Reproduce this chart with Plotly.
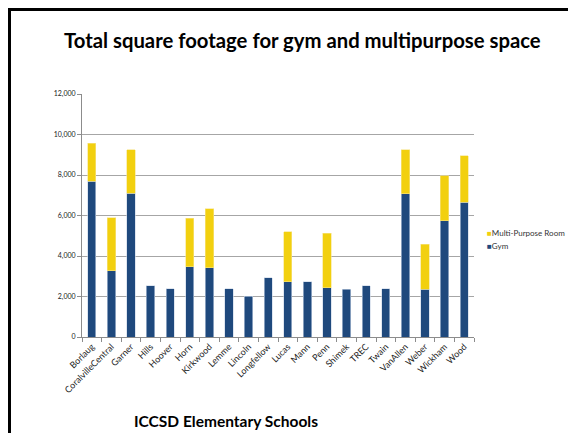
import plotly.graph_objects as go

schools = [
    "Borlaug", "CoralvilleCentral", "Garner", "Hills", "Hoover", "Horn",
    "Kirkwood", "Lemme", "Lincoln", "Longfellow", "Lucas", "Mann", "Penn",
    "Shimek", "TREC", "Twain", "VanAllen", "Weber", "Wickham", "Wood",
]
gym = [
    7680, 3270, 7090, 2520, 2390, 3470, 3420, 2390, 2010, 2930,
    2730, 2730, 2440, 2350, 2520, 2390, 7080, 2370, 5740, 6650,
]
# None = school has no multi-purpose room
multi_purpose = [
    1900, 2630, 2160, None, None, 2390, 2920, None, None, None,
    2470, None, 2680, None, None, None, 2170, 2220, 2230, 2300,
]

GYM_BLUE = "#1F497D"
MPR_YELLOW = "#F2D00F"
FONT = "Lato"

# the page body has an 8px margin, so the figure is 8px smaller
# and page pixel positions are shifted by that amount
OFF = 8
W, H = 576 - OFF, 433 - OFF
L, T = 82 - OFF, 94 - OFF
R = W - (474 - OFF)
B = H - (337 - OFF)
PW, PH = W - L - R, H - T - B


def px(x):
    return (x - OFF - L) / PW


def py(y):
    return (H - B - (y - OFF)) / PH


fig = go.Figure()
fig.add_trace(go.Bar(
    x=schools, y=gym, name="Gym", showlegend=False,
    marker={"color": GYM_BLUE, "line": {"color": "#C9D6E6", "width": 0.6}},
))
fig.add_trace(go.Bar(
    x=schools, y=multi_purpose, name="Multi-Purpose Room", showlegend=False,
    marker={"color": MPR_YELLOW, "line": {"color": "#F7E58A", "width": 0.6}},
))

legend_items = [("Multi-Purpose Room", MPR_YELLOW, 233), ("Gym", GYM_BLUE, 246)]

annotations = [
    {
        "text": "<b>Total square footage for gym and multipurpose space</b>",
        "x": px(302), "y": py(40), "xref": "paper", "yref": "paper",
        "xanchor": "center", "yanchor": "middle", "showarrow": False,
        "font": {"size": 20.3, "family": FONT, "color": "black"},
    },
    {
        "text": "<b>ICCSD Elementary Schools</b>",
        "x": px(132), "y": py(421), "xref": "paper", "yref": "paper",
        "xanchor": "left", "yanchor": "middle", "showarrow": False,
        "font": {"size": 15.5, "family": FONT, "color": "black"},
    },
]
for label, color, ypos in legend_items:
    annotations.append({
        "text": f'<span style="color:{color}">■</span>{label}',
        "x": px(485), "y": py(ypos), "xref": "paper", "yref": "paper",
        "xanchor": "left", "yanchor": "middle", "showarrow": False,
        "font": {"size": 8, "family": FONT, "color": "#333333"},
    })

fig.update_layout(
    width=W, height=H,
    margin={"l": L, "r": R, "t": T, "b": B, "autoexpand": False},
    barmode="stack",
    bargap=0.58,
    plot_bgcolor="white",
    paper_bgcolor="white",
    font={"family": FONT, "color": "#222222", "size": 8},
    annotations=annotations,
    shapes=[
        {
            "type": "path", "xref": "paper", "yref": "paper",
            "path": (
                f"M {px(9.5)},{py(460)} L {px(9.5)},{py(9.5)} "
                f"L {px(571.5)},{py(9.5)} L {px(571.5)},{py(460)}"
            ),
            "line": {"color": "black", "width": 3},
        },
    ],
)

fig.update_xaxes(
    type="category",
    tickangle=-45,
    tickson="boundaries",
    ticks="outside", ticklen=4, tickcolor="#8C8C8C",
    showline=True, linecolor="#8C8C8C", linewidth=1,
    tickfont={"size": 9, "family": FONT, "color": "#222222"},
    showgrid=False,
)
fig.update_yaxes(
    range=[0, 12000],
    tickvals=[0, 2000, 4000, 6000, 8000, 10000, 12000],
    tickformat=",",
    ticks="outside", ticklen=4, tickcolor="#8C8C8C",
    showline=True, linecolor="#8C8C8C", linewidth=1,
    showgrid=True, gridcolor="#A6A6A6", gridwidth=1.2,
    tickfont={"size": 7, "family": FONT, "color": "#222222"},
    zeroline=False,
)

fig.write_html("out.html")
